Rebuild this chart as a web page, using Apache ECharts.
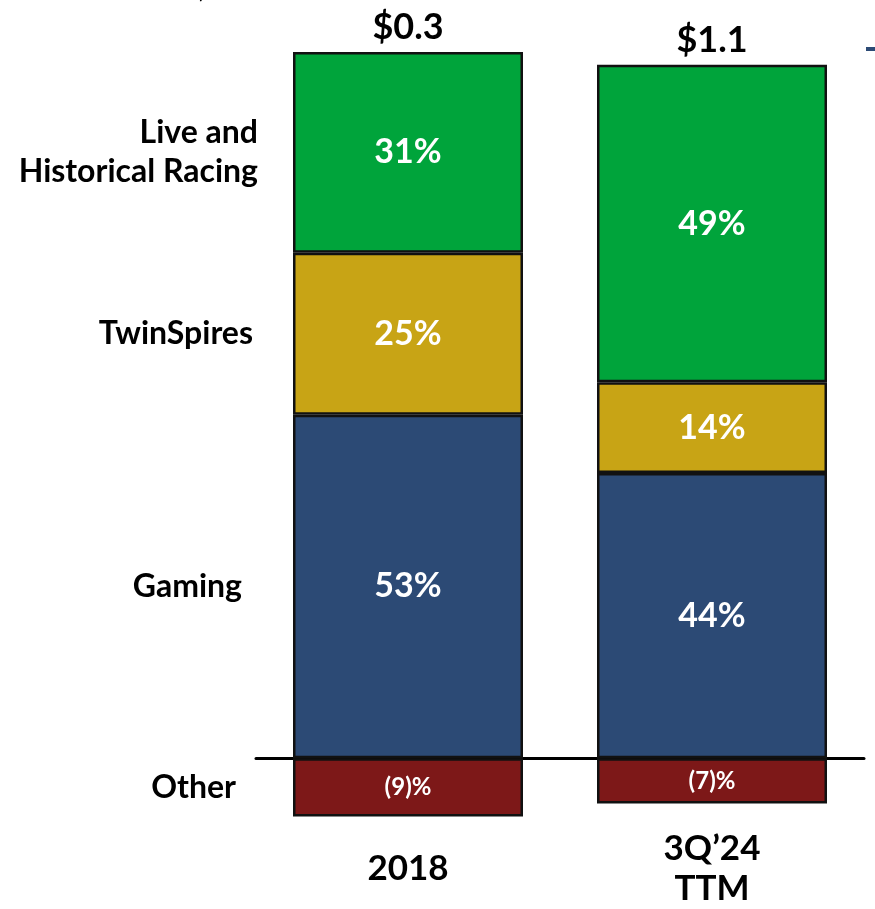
<!DOCTYPE html>
<html>
<head>
<meta charset="utf-8">
<script src="https://cdn.jsdelivr.net/npm/echarts@6/dist/echarts.min.js"></script>
<style>
    html, body { margin: 0; padding: 0; background: #fff; }
    #main { width: 875px; height: 909px; }
</style>
</head>
<body>
<div id="main"></div>
<script>
// 数据
const categories = ['2018', '3Q’24\nTTM']
const gaming = [53, 44]
const twinSpires = [25, 14]
const liveRacing = [31, 49]
const other = [-9, -7]
const totals = ['$0.3', '$1.1']
const segmentNames = ['Gaming', 'TwinSpires', 'Live and\nHistorical Racing', 'Other']

const font = 'Lato, "Open Sans", sans-serif'
const heavy = 'bold'
const border = { borderColor: '#111', borderWidth: 2.5 }

let chart = echarts.init(document.getElementById('main'))

function pctLabel(size) {
    return {
        show: true,
        position: 'inside',
        color: '#fff',
        fontFamily: font,
        fontWeight: heavy,
        fontSize: size,
        formatter: p => p.value < 0 ? '(' + (-p.value) + ')%' : p.value + '%'
    }
}

const stackTop = gaming.map((v, i) => v + twinSpires[i] + liveRacing[i])

let option = {
    animation: false,
    grid: { left: 256, right: 11, top: 13, bottom: 82 },
    xAxis: [{
        type: 'category',
        data: categories,
        axisLine: { onZero: true, lineStyle: { color: '#000', width: 3 } },
        axisTick: { show: false },
        axisLabel: { show: false }
    }, {
        type: 'category',
        data: categories,
        position: 'bottom',
        axisLine: { show: false },
        axisTick: { show: false },
        axisLabel: {
            margin: 46,
            verticalAlign: 'middle',
            color: '#000',
            fontFamily: font,
            fontWeight: heavy,
            fontSize: 35,
            lineHeight: 40
        }
    }],
    yAxis: {
        type: 'value',
        min: -10,
        max: 115,
        show: false
    },
    series: [
        {
            name: 'Gaming', type: 'bar', stack: 'a', data: gaming, barWidth: 230,
            itemStyle: { color: '#2c4a75', ...border }, label: pctLabel(34)
        },
        {
            name: 'TwinSpires', type: 'bar', stack: 'a', data: twinSpires, barWidth: 230,
            itemStyle: { color: '#c8a415', ...border }, label: pctLabel(34)
        },
        {
            name: 'Live and Historical Racing', type: 'bar', stack: 'a', data: liveRacing, barWidth: 230,
            itemStyle: { color: '#00a43b', ...border }, label: pctLabel(34)
        },
        {
            name: 'Other', type: 'bar', stack: 'a', data: other, barWidth: 230,
            itemStyle: { color: '#7d1818', ...border }, label: pctLabel(24)
        },
        {
            name: 'Total', type: 'bar', data: stackTop, barWidth: 230, barGap: '-100%', z: 1,
            silent: true,
            itemStyle: { color: 'transparent' },
            label: {
                show: true,
                position: 'top',
                distance: 6,
                color: '#000',
                fontFamily: font,
                fontWeight: heavy,
                fontSize: 36,
                formatter: p => totals[p.dataIndex]
            }
        }
    ]
}

chart.setOption(option)

// 左侧分段说明，按 2018 柱各段中点定位
const seg2018 = [gaming[0], twinSpires[0], liveRacing[0]]
let mids = []
let acc = 0
seg2018.forEach(v => { mids.push(acc + v / 2); acc += v })
mids.push(other[0] / 2)
const rightEdges = [242, 253, 258, 236]

let graphics = segmentNames.map((name, i) => {
    const y = chart.convertToPixel({ yAxisIndex: 0 }, mids[i])
    return {
        type: 'text',
        x: rightEdges[i],
        y: y,
        style: {
            text: name,
            align: 'right',
            verticalAlign: 'middle',
            fill: '#000',
            font: heavy + ' 32px ' + font,
            lineHeight: 39
        }
    }
})
graphics.push({
    type: 'text', x: 195, y: -19,
    style: { text: '$ in billions', fill: '#000', font: heavy + ' 22px ' + font }
})
graphics.push({
    type: 'rect', shape: { x: 866, y: 47, width: 9, height: 4 },
    style: { fill: '#2c4a75' }
})
chart.setOption({ graphic: graphics })
</script>
</body>
</html>
